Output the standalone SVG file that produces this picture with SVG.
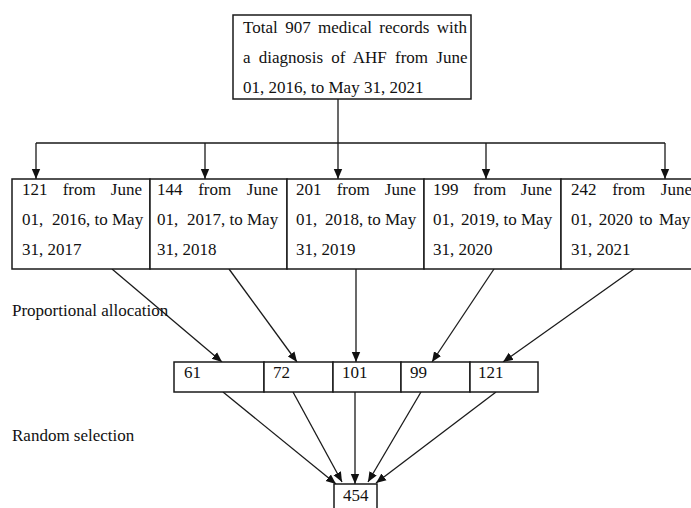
<svg xmlns="http://www.w3.org/2000/svg" width="691" height="508" viewBox="0 0 691 508">
<style>
.box{fill:#fff;stroke:#1a1a1a;stroke-width:1.5}
.ln{fill:none;stroke:#1a1a1a;stroke-width:1.3}
.ar{fill:none;stroke:#1a1a1a;stroke-width:1.3;marker-end:url(#ah)}
text{font-family:"Liberation Serif","Times New Roman",serif;font-size:17px;fill:#111}
</style>
<defs>
<marker id="ah" markerWidth="10" markerHeight="10" refX="10" refY="5" orient="auto" markerUnits="userSpaceOnUse">
<path d="M0,0.8 L10,5 L0,9.2 Z" fill="#111"/>
</marker>
</defs>
<rect width="691" height="508" fill="#fff"/>
<g id="connectors">
<path class="ln" d="M338,99 V143 M36,143 H665"/>
<path class="ar" d="M36,143 V179"/>
<path class="ar" d="M205,143 V179"/>
<path class="ar" d="M338,143 V179"/>
<path class="ar" d="M486,143 V179"/>
<path class="ar" d="M665,143 V179"/>
<path class="ar" d="M112,269 L222,362"/>
<path class="ar" d="M229,269 L297,362"/>
<path class="ar" d="M356,269 L356,362"/>
<path class="ar" d="M494,269 L432,362"/>
<path class="ar" d="M634,269 L503,362"/>
<path class="ar" d="M223,392 L336,484"/>
<path class="ar" d="M293,392 L342,482"/>
<path class="ar" d="M355,392 L355,484"/>
<path class="ar" d="M421,392 L368,482"/>
<path class="ar" d="M496,392 L376,483"/>
</g>
<g id="top">
<rect class="box" x="233" y="15" width="238" height="84"/>
<text x="243" y="33" word-spacing="3.2">Total 907 medical records with</text>
<text x="243" y="63" word-spacing="4">a diagnosis of AHF from June</text>
<text x="243" y="93">01, 2016, to May 31, 2021</text>
</g>
<g id="y2016">
<rect class="box" x="12" y="179" width="138" height="90"/>
<text x="22" y="195" word-spacing="10.9">121 from June</text>
<text y="225"><tspan x="22">01,</tspan><tspan x="52">2016, to May</tspan></text>
<text x="22" y="255">31, 2017</text>
</g>
<g id="y2017">
<rect class="box" x="150" y="179" width="137" height="90"/>
<text x="157" y="195" word-spacing="11.4">144 from June</text>
<text y="225"><tspan x="157">01,</tspan><tspan x="187">2017, to May</tspan></text>
<text x="157" y="255">31, 2018</text>
</g>
<g id="y2018">
<rect class="box" x="287" y="179" width="137" height="90"/>
<text x="296" y="195" word-spacing="10.9">201 from June</text>
<text y="225"><tspan x="296">01,</tspan><tspan x="325">2018, to May</tspan></text>
<text x="296" y="255">31, 2019</text>
</g>
<g id="y2019">
<rect class="box" x="424" y="179" width="137" height="90"/>
<text x="433" y="195" word-spacing="10.4">199 from June</text>
<text y="225"><tspan x="433">01,</tspan><tspan x="461">2019, to May</tspan></text>
<text x="433" y="255">31, 2020</text>
</g>
<g id="y2020">
<rect class="box" x="561" y="179" width="137" height="90"/>
<text x="571" y="195" word-spacing="11.4">242 from June</text>
<text x="571" y="225" word-spacing="2.3">01, 2020 to May</text>
<text x="571" y="255">31, 2021</text>
</g>
<g id="label-prop"><text x="12" y="316">Proportional allocation</text></g>
<g id="s61"><rect class="box" x="174" y="362" width="90" height="30"/><text x="184" y="378">61</text></g>
<g id="s72"><rect class="box" x="264" y="362" width="69" height="30"/><text x="273" y="378">72</text></g>
<g id="s101"><rect class="box" x="333" y="362" width="68" height="30"/><text x="342" y="378">101</text></g>
<g id="s99"><rect class="box" x="401" y="362" width="69" height="30"/><text x="410" y="378">99</text></g>
<g id="s121"><rect class="box" x="470" y="362" width="68" height="30"/><text x="478" y="378">121</text></g>
<g id="label-rand"><text x="12" y="441">Random selection</text></g>
<g id="total"><rect class="box" x="334" y="484" width="43" height="30"/><text x="343" y="501">454</text></g>
</svg>
